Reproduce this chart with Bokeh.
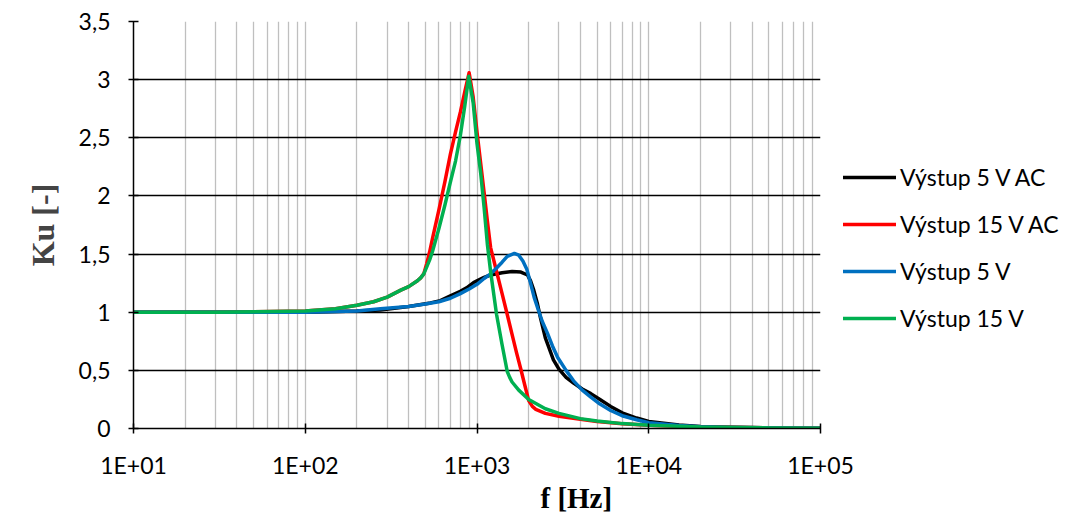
from bokeh.plotting import figure
from bokeh.models import Legend, LegendItem, FixedTicker, CustomJSTickFormatter, Title
from bokeh.embed import file_html
from bokeh.resources import INLINE

# ---- data ----
f_black = [10, 100, 200, 274, 400, 536, 612, 700, 800, 870, 955, 1000, 1100, 1200, 1400, 1600,
           1800, 1968, 2050, 2140, 2250, 2344, 2500, 2786, 3000, 3300, 3650, 4100, 4600, 5200, 6000,
           7000, 8500, 10000, 15000, 20000, 30000, 50000, 100000]
k_black = [1.0, 1.0, 1.01, 1.02, 1.05, 1.08, 1.10, 1.14, 1.18, 1.21, 1.255, 1.27, 1.30, 1.32, 1.34, 1.35,
           1.345, 1.32, 1.27, 1.19, 1.07, 0.95, 0.78, 0.59, 0.51, 0.44, 0.39, 0.34, 0.30, 0.25, 0.19,
           0.135, 0.09, 0.06, 0.03, 0.018, 0.01, 0.005, 0.002]

f_red = [10, 30, 100, 150, 200, 250, 300, 360, 400, 450, 470, 490, 510, 530, 550, 600, 650, 700, 750, 800, 850,
         900, 950, 1000, 1100, 1150, 1200, 1300, 1400, 1500, 1600, 1700, 1800, 1900, 2000, 2100, 2200,
         2500, 3000, 4000, 5000, 7000, 10000, 20000, 50000, 100000]
k_red = [1.0, 1.0, 1.01, 1.03, 1.06, 1.09, 1.13, 1.19, 1.22, 1.27, 1.295, 1.33, 1.42, 1.52, 1.63, 1.88, 2.12, 2.36, 2.55, 2.72, 2.90,
         3.06, 2.85, 2.55, 2.03, 1.78, 1.556, 1.35, 1.16, 0.98, 0.81, 0.65, 0.51, 0.37, 0.24, 0.19, 0.165,
         0.13, 0.105, 0.08, 0.06, 0.04, 0.028, 0.012, 0.005, 0.003]

f_blue = [10, 100, 200, 274, 400, 500, 600, 700, 800, 900, 1000, 1100, 1200, 1300, 1400, 1500, 1650,
          1750, 1850, 1950, 2050, 2150, 2250, 2400, 2570, 2750, 2950, 3300, 3650, 4100, 4600, 5200,
          6000, 7000, 8500, 10000, 15000, 20000, 30000, 50000, 100000]
k_blue = [1.0, 1.0, 1.01, 1.03, 1.05, 1.07, 1.09, 1.12, 1.16, 1.20, 1.24, 1.29, 1.33, 1.38, 1.43, 1.48, 1.505,
          1.49, 1.44, 1.37, 1.25, 1.13, 1.04, 0.92, 0.82, 0.71, 0.61, 0.50, 0.41, 0.33, 0.27, 0.21,
          0.155, 0.11, 0.075, 0.05, 0.025, 0.015, 0.009, 0.005, 0.003]

f_green = [10, 30, 100, 150, 200, 250, 300, 360, 400, 450, 470, 490, 510, 530, 550, 600, 650, 700, 750, 800, 850,
           895, 950, 1000, 1050, 1100, 1150, 1200, 1300, 1400, 1500, 1550, 1600, 1750, 2000, 2500, 3000,
           4000, 5000, 7000, 10000, 20000, 50000, 100000]
k_green = [1.0, 1.0, 1.01, 1.03, 1.06, 1.09, 1.13, 1.19, 1.22, 1.27, 1.295, 1.33, 1.39, 1.45, 1.52, 1.72, 1.92, 2.12, 2.30, 2.52, 2.78,
           3.03, 2.80, 2.45, 2.20, 1.90, 1.58, 1.35, 0.98, 0.72, 0.49, 0.44, 0.40, 0.33, 0.25, 0.17, 0.13,
           0.085, 0.065, 0.042, 0.028, 0.012, 0.005, 0.003]

labels = ["Výstup 5 V AC", "Výstup 15 V AC", "Výstup 5 V", "Výstup 15 V"]
colors = ["#000000", "#FF0000", "#0070C0", "#00B050"]

x_major = [10, 100, 1000, 10000, 100000]
y_major = [0, 0.5, 1, 1.5, 2, 2.5, 3, 3.5]
y_grid = [0.5, 1, 1.5, 2, 2.5, 3]

TICK_FONT = "Lato"
TITLE_FONT = "Liberation Serif"

p = figure(x_axis_type="log", x_range=(10, 1e5), y_range=(0, 3.5),
           frame_width=687, frame_height=407,
           min_border_left=133, min_border_right=237, min_border_top=21, min_border_bottom=88,
           output_backend="svg", toolbar_location=None)
p.outline_line_color = None
p.background_fill_color = "white"
p.border_fill_color = "white"

minor = [m * d for d in [10, 100, 1000, 10000] for m in range(2, 10)]
p.xaxis.ticker = FixedTicker(ticks=x_major, minor_ticks=minor)
p.yaxis.ticker = FixedTicker(ticks=y_major)
p.xaxis.formatter = CustomJSTickFormatter(code="""
const e = Math.round(Math.log10(tick));
return '1E+' + (e < 10 ? '0' : '') + e;
""")
p.yaxis.formatter = CustomJSTickFormatter(code="return tick.toString().replace('.', ',');")

for ax in (p.xaxis, p.yaxis):
    ax.axis_line_color = "black"
    ax.axis_line_width = 1.5
    ax.major_tick_line_color = "black"
    ax.major_tick_line_width = 1.5
    ax.major_tick_in = 5
    ax.major_tick_out = 5
    ax.minor_tick_line_color = None
    ax.major_label_text_font = TICK_FONT
    ax.major_label_text_font_size = "23px"
    ax.major_label_text_color = "black"

p.xaxis.major_label_standoff = 17
p.yaxis.major_label_standoff = 18

p.yaxis.axis_label = "Ku [-]"
p.yaxis.axis_label_text_font = TITLE_FONT
p.yaxis.axis_label_text_font_style = "bold"
p.yaxis.axis_label_text_font_size = "32px"
p.yaxis.axis_label_standoff = 15

p.xgrid.grid_line_color = "#BFBFBF"
p.xgrid.grid_line_width = 1.3
p.xgrid.minor_grid_line_color = "#BFBFBF"
p.xgrid.minor_grid_line_width = 1.3
p.ygrid.ticker = FixedTicker(ticks=y_grid)
p.ygrid.grid_line_color = "black"
p.ygrid.grid_line_width = 1.3

xt = Title(text="f [Hz]", align="left", offset=407, standoff=-4, text_font=TITLE_FONT,
           text_font_style="bold", text_font_size="29px", text_color="black")
p.add_layout(xt, "below")

series = [(f_black, k_black), (f_red, k_red), (f_blue, k_blue), (f_green, k_green)]
renderers = []
for (fx, ky), c in zip(series, colors):
    r = p.line(fx, ky, line_color=c, line_width=3.5, line_join="round", line_cap="round")
    renderers.append(r)

items = [LegendItem(label=l, renderers=[r]) for l, r in zip(labels, renderers)]
legend = Legend(items=items, location=(23, 90), border_line_color=None, margin=0,
                background_fill_alpha=0, padding=0, spacing=7, glyph_height=40,
                label_height=40, glyph_width=53, label_standoff=4,
                label_text_font=TICK_FONT, label_text_font_size="23px", label_text_color="black")
p.add_layout(legend, "right")

open("out.html", "w").write(file_html(p, INLINE))
